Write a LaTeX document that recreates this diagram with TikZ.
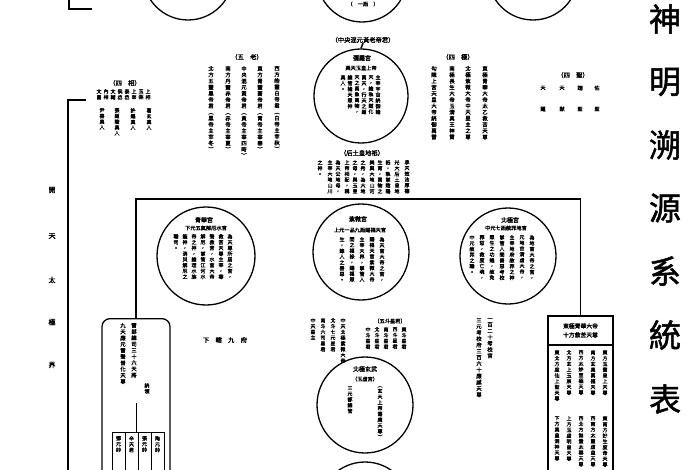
\documentclass[tikz,border=0pt]{standalone}
\usepackage{fontspec}
\setmainfont[FakeBold=1.6]{Noto Sans CJK TC}
\newfontfamily\titlefont[FakeBold=1.5]{Noto Sans CJK TC}
\def\vtend{VTEND}
\def\vtloop#1{\ifx#1\vtend\else\hbox to 1em{\hss#1\hss}\expandafter\vtloop\fi}
\newcommand\vt[1]{\vbox{\baselineskip=1.15em\lineskip=0pt\lineskiplimit=-100pt\edef\vtl{#1}\expandafter\vtloop\vtl\vtend}}
\begin{document}
\begin{tikzpicture}[x=1pt,y=-1pt,
  ring/.style={draw, circle, line width=1.3pt, inner sep=0pt},
  link/.style={draw, line width=1.6pt},
  thin/.style={draw, line width=1pt},
  col/.style={inner sep=0pt, anchor=north, font=\fontsize{5}{5}\selectfont},
  colb/.style={inner sep=0pt, anchor=north, font=\fontsize{5.4}{6}\selectfont},
  lab/.style={inner sep=0pt, font=\fontsize{6.3}{7}\selectfont},
  head/.style={inner sep=0pt, font=\titlefont\fontsize{6}{7}\selectfont},
  row/.style={inner sep=0pt, font=\fontsize{5.2}{6}\selectfont},
  bigch/.style={inner sep=0pt, font=\titlefont\fontsize{32}{34}\selectfont},
  sidech/.style={inner sep=0pt, font=\titlefont\fontsize{7}{8}\selectfont},
]
\useasboundingbox (0,0) rectangle (700,470);
\fill[white] (0,0) rectangle (700,470);

% top bracket and circles
\coordinate (tb1) at (92,9); \coordinate (tb2) at (69,9); \coordinate (tb3) at (69,-2);
\draw[link] (tb1) -- (tb2) -- (tb3);
\node[ring, minimum size=90pt] (topL) at (188,-25) {};
\node[ring, minimum size=90pt] (topC) at (362,-23) {};
\node[ring, minimum size=90pt] (topR) at (533,-25) {};
\node[row] (yiqi) at (363,4) {（　一炁　）};

% Mi Luo Gong
\node[lab] (zy) at (363,40) {（中央混元黃老帝君）};
\node[ring, minimum size=94pt] (mira) at (361,96) {};
\draw[link] (zy.south) -- (mira.north);
\node[head] (mirah) at (362,58) {彌羅宮};
\node[row] (mirar) at (361,68) {昊天玉皇上帝};
\foreach \x/\t [count=\i] in {378/主宰宇宙統御諸,371/天，總執天道化,364/萬天，行天之道,357/天之萬象萬物，,350/總管諸天眾神,343/真人。}
  \node[col] (mc\i) at (\x,75) {\vt{\t}};

% Five elders
\node[lab] (wulao) at (247,57) {（五　老）};
\foreach \x/\t [count=\i] in {277/西方皓靈白帝君︵白帝主宰秋︶,260/東方青靈蒼帝君︵青帝主宰春︶,244/中央混元黃帝君︵黃帝主宰四時︶,228/南方丹靈赤帝君︵赤帝主宰夏︶,211/北方五靈黑帝君︵黑帝主宰冬︶}
  \node[colb] (wl\i) at (\x,66) {\vt{\t}};

% Four poles
\node[lab] (siji) at (458,57) {（四　極）};
\foreach \x/\t [count=\i] in {485/東極青華大帝太乙救苦天尊,468/北極紫微大帝中天星主之尊,452/南極長生大帝玉清真王神霄,434/勾陳上宮天皇大帝統御萬雷}
  \node[colb] (sj\i) at (\x,66) {\vt{\t}};

% Four ministers
\node[lab] (sixiang) at (125,83) {（四　相）};
\foreach \x/\t [count=\i] in {99/文昌,106/內相,113/文輔,120/侯丞,127/泰丞,134/上宰,141/玉弼,148/上相}
  \node[col] (sxa\i) at (\x,89) {\vt{\t}};
\foreach \x/\t [count=\i] in {102/尹喜真人,117/張道陵真人,133/許遜真人,149/葛玄真人}
  \node[col] (sxb\i) at (\x,108) {\vt{\t}};

% Four saints
\node[lab] (sisheng) at (573,75) {（四　聖）};
\foreach \x/\a/\b [count=\i] in {543/天/蓬,562/天/猷,580/翊/聖,597/佑/聖}{
  \node[row] (ssa\i) at (\x,88) {\a};
  \node[row] (ssb\i) at (\x,109) {\b};
}

% Houtu
\node[lab] (houtu) at (362,153) {（后土皇地祇）};
\foreach \x/\t [count=\i] in {407/承天效法厚德,397/光大后土皇地,388/祇，執掌陰陽,380/生育，萬物之,372/美與大地山河,363/之秀，為大地,355/之母，與玉皇,347/上帝相配，稱,338/為天公地母，,330/主宰大地山川,320/之神。}
  \node[col] (ht\i) at (\x,160) {\vt{\t}};

% left bracket
\coordinate (lb1) at (86,100); \coordinate (lb2) at (68,100); \coordinate (lb3) at (68,472);
\draw[link] (lb1) -- (lb2) -- (lb3);
\foreach \y/\t [count=\i] in {190/開,236/天,280/太,322/極,365/界}
  \node[sidech] (kt\i) at (52,\y) {\t};

% three palaces
\node[ring, minimum size=98pt] (qinghua) at (206,256) {};
\node[head] (qhh) at (204,220) {青華宮};
\node[row] (qhr) at (206,228) {下元五氣解厄水官};
\foreach \x/\t [count=\i] in {230/為天尊所居之宮，,221/救苦天尊主宰，尋,212/聲救苦，水官大帝,203/解厄，掌管江河水,194/帝之神，總理水族,185/龍神，消災解厄之,176/職司。}
  \node[col] (qc\i) at (\x,234) {\vt{\t}};

\node[ring, minimum size=96pt] (ziwei) at (361,252) {};
\node[head] (zwh) at (358,219) {紫微宮};
\node[row] (zwr) at (360,230) {上元一品九炁賜福天官};
\foreach \x/\t [count=\i] in {382/為天官大帝之宮，,372/賜福天官紫微大帝,362/主宰天界，掌管人,352/間之福祿，賜福眾,342/生，錄人之善惡。}
  \node[col] (zc\i) at (\x,237) {\vt{\t}};

\node[ring, minimum size=96pt] (beiji) at (508,256) {};
\node[head] (bjh) at (510,220) {北極宮};
\node[row] (bjr) at (506,228) {中元七炁赦罪地官};
\foreach \x/\t [count=\i] in {532/為地官大帝之宮，,522/元地官清虛大帝，,512/主宰地府赦罪之神,502/掌管人間善惡考校,492/眾生之功過，赦免,482/罪愆，救度亡魂，,472/中元赦罪之職。}
  \node[col] (bc\i) at (\x,235) {\vt{\t}};

% left box
\node[draw, line width=1.3pt, rounded corners=8pt, minimum width=68pt, minimum height=170pt, anchor=north, inner sep=0pt] (lbox) at (136,318) {};
\node[colb] (lb1t) at (123,323) {\vt{九天應元雷聲普化天尊}};
\node[colb] (lb2t) at (134,323) {\vt{雷部總司三十六天將}};
\node[col] (lb3t) at (147,383) {\vt{統領}};
\coordinate (tr0) at (136,403); \coordinate (tr1) at (136,432);
\draw[thin] (tr0) -- (tr1);
\coordinate (ta) at (112,432); \coordinate (tz) at (164,432);
\draw[thin] (ta) -- (tz);
\foreach \x [count=\i] in {112,125,138,151,164}{
  \coordinate (td\i) at (\x,432); \coordinate (te\i) at (\x,472);
  \draw[thin] (td\i) -- (te\i);
}
\foreach \x/\t [count=\i] in {118.5/鄧元帥,131.5/辛天君,144.5/張元帥,157.5/陶元帥}
  \node[col] (tt\i) at (\x,436) {\vt{\t}};

% right box
\node[draw, line width=1.3pt, minimum width=65pt, minimum height=29pt, inner sep=0pt, align=center, font=\fontsize{5.8}{9}\selectfont] (rbox) at (580.5,330.5) {東極青華大帝\\十方救苦天尊};
\node[draw, line width=1.1pt, minimum width=65pt, minimum height=140pt, anchor=north, inner sep=0pt] (rbody) at (580.5,345) {};
\foreach \x/\t [count=\i] in {605/東方玉寶皇上天尊,593/南方玄真萬福天尊,581/西方太妙至極天尊,569/北方玄上玉宸天尊,557/東北方度仙上聖天尊}
  \node[col] (ru\i) at (\x,350) {\vt{\t}};
\foreach \x/\t [count=\i] in {605/東南方好生度命天尊,593/西南方太靈虛皇天尊,581/西北方無量太華天尊,569/上方玉虛明皇天尊,557/下方真皇洞神天尊}
  \node[col] (rl\i) at (\x,416) {\vt{\t}};

% main horizontal connector
\coordinate (jl) at (136,199); \coordinate (jr) at (580.5,199);
\draw[link] (lbox.north) -- (jl) -- (jr) -- (rbox.north);

% under ziwei
\foreach \x/\t [count=\i] in {343/中天北極紫微大帝,333/北斗七元星君,323/南斗六司星君,313/中天星主}
  \node[col] (uz\i) at (\x,318) {\vt{\t}};
\node[row] (wudou) at (390,321) {〔五斗星君〕};
\foreach \x/\t [count=\i] in {404/東斗星君,395/西斗星君,386/南斗星君,377/北斗星君,368/中斗星君}
  \node[col] (wd\i) at (\x,327) {\vt{\t}};

\node[lab] (xiaxia) at (225,340) {下　轄　九　府};
\node[colb] (sy1) at (479,318) {\vt{三元考校府三百六十應感天尊}};
\node[colb] (sy2) at (490,318) {\vt{一百二十考校官}};

% Beiji Xuanwu
\node[ring, minimum size=96pt] (xuanwu) at (365,405) {};
\node[head] (xwh) at (365,369) {北極玄武};
\node[row] (xwr) at (365,379) {（玉虛宮）};
\node[col] (xw1) at (380,386) {\vt{︵玄天上帝蕩魔天尊︶}};
\node[col] (xw2) at (350,386) {\vt{三元都總管}};
\node[ring, minimum size=92pt] (bottomc) at (365,508) {};

% title
\foreach \y/\t [count=\i] in {19/神,82/明,145/溯,208/源,271/系,335/統,399/表}
  \node[bigch] (tt\i) at (665,\y) {\t};
\end{tikzpicture}
\end{document}
